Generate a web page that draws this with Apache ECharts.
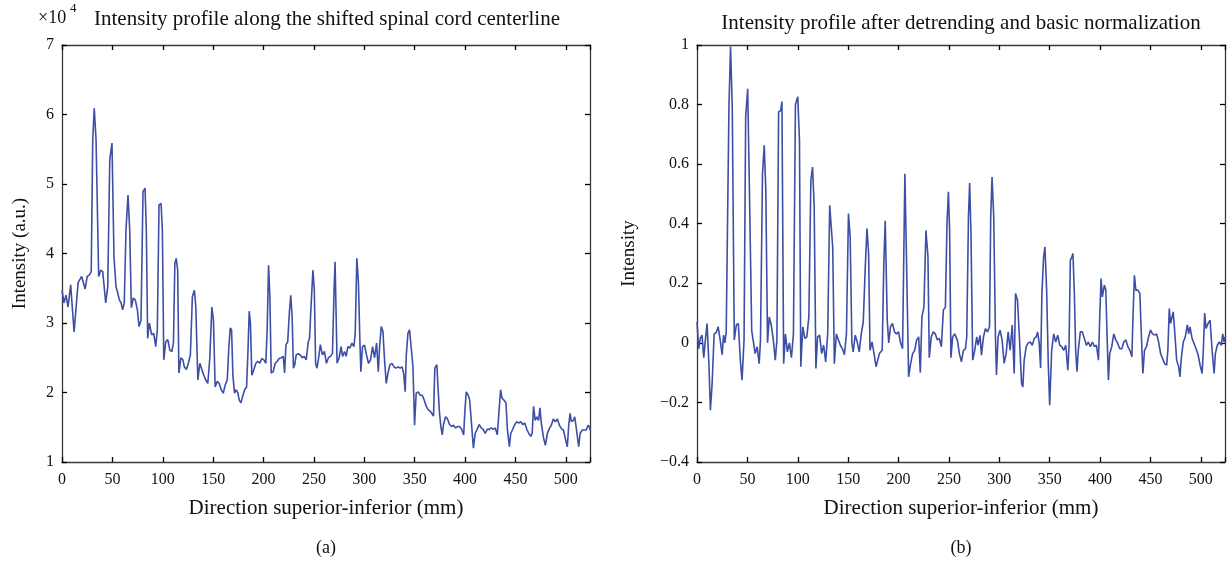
<!DOCTYPE html>
<html><head><meta charset="utf-8">
<script src="https://cdn.jsdelivr.net/npm/echarts@6/dist/echarts.min.js"></script>
<style>html,body{margin:0;padding:0;background:#fff}#c{width:1230px;height:567px}</style>
</head><body><div id="c"></div><script>
// ---- tick labels ----
const xTicks = [0,50,100,150,200,250,300,350,400,450,500];
const xMax = 524;
const yTicksA = [1,2,3,4,5,6,7];           // ×10^4
const yTicksB = [-0.4,-0.2,0,0.2,0.4,0.6,0.8,1];

// ---- (a) raw intensity profile, units of 10^4 ----
const posA = [0,2,4,6,8.6,12,16,19.5,23,25,27,29,30.5,32,33.8,36.4,38.4,40.4,43.4,45.4,47.4,49.6,51.6,53.6,55,57,58.6,60.2,61.8,63.5,65.5,67.2,68.8,70.8,72.8,74.8,76.4,78.4,80.4,82.4,83.7,85,86.7,89,91,93,94.6,96.3,98.3,99.6,101,103,105,107,109,110.6,112,113.4,114.8,116,118,120,121.4,123.4,125.4,127.4,129.4,131.4,132.8,134.8,136.8,138.8,140.7,142.7,144.7,146.7,148.7,150.3,152,154,156,158,160,162,164,165.6,167,168.3,169.6,171.2,173,174.6,175.9,177.6,179.2,181.2,183.2,184.6,185.8,187,188.4,190.4,192.4,194.4,196.4,198.3,200.3,202.3,203.6,205,206.3,207.6,209.6,211.6,213.6,215.6,217.6,219.6,220.9,222.3,224,225.6,227,228.4,229.7,231,232.4,234.4,236.4,238.4,240.4,242.4,244.4,245.7,247,249,250.4,251.7,253,254.4,256.4,258.4,260.4,262.4,264.4,266.4,268.4,270,271,273,275,277,278.4,280.4,282,283.7,285.7,287.7,289.7,291,292.6,294.2,295.6,296.6,298.2,300.2,302.2,304.2,306.2,308.2,310.2,312.2,313.9,315.2,316.8,318.5,320.1,321.8,323.5,325.5,327.5,329.5,331.5,333.5,335.5,337.5,339,340.6,341.6,343.3,344.9,346.6,348.3,349.9,351.5,353.5,355.5,357.5,359.5,361.5,363.5,365.5,367.4,368.7,370,372,373.3,374.6,376,377.4,378.6,380.6,382.6,384.6,386.6,388.6,390.6,392.6,394.6,396.6,398.6,399.9,401.2,403.2,404.6,406.6,408.3,410,412,414,416,418,420,422,424,426,428,430,432,433.6,435.3,436.6,438.6,440.6,442,444,445.3,447.3,449.3,451.3,453.3,455.3,457.3,459.3,461.3,463.3,465.3,466.6,468,469.6,471.3,473,474.3,475.7,477.7,479.7,481.7,483.6,485.6,487.6,489.6,491.6,493.6,495.6,497.6,499.5,501.5,502.8,504.2,505.5,507.5,508.8,510.2,511.5,512.8,514.2,516.2,518.2,520.2,522.2,523.5,524];
const intensityA = [3.47,3.29,3.4,3.23,3.55,2.87,3.58,3.67,3.49,3.67,3.69,3.74,5.63,6.09,5.63,3.67,3.76,3.74,3.29,3.52,5.35,5.59,3.95,3.52,3.45,3.33,3.29,3.19,3.29,4.34,4.84,4.34,3.22,3.36,3.33,3.19,2.95,3.04,4.89,4.94,4.34,2.78,3.0,2.83,2.85,2.66,2.9,4.70,4.72,4.34,2.47,2.73,2.76,2.61,2.59,2.71,3.86,3.93,3.76,2.28,2.5,2.47,2.37,2.33,2.42,2.54,3.38,3.47,3.23,2.18,2.42,2.33,2.25,2.18,2.13,2.5,3.23,3.04,2.08,2.16,2.13,2.04,1.99,2.11,2.18,2.66,2.93,2.9,2.25,1.99,2.04,1.99,1.89,1.85,1.94,2.04,2.08,2.61,3.17,3.0,2.25,2.33,2.42,2.45,2.42,2.49,2.47,2.42,2.9,3.83,3.38,2.28,2.3,2.42,2.45,2.49,2.5,2.52,2.28,2.69,2.73,3.14,3.4,3.09,2.35,2.4,2.54,2.56,2.54,2.5,2.52,2.47,2.73,2.78,3.2,3.76,3.47,2.42,2.35,2.47,2.69,2.54,2.59,2.42,2.5,2.52,2.56,3.47,3.88,2.42,2.5,2.66,2.52,2.59,2.52,2.66,2.64,2.71,2.66,2.85,3.93,3.58,2.76,2.3,2.66,2.68,2.54,2.42,2.47,2.66,2.5,2.71,2.3,2.66,2.95,2.88,2.47,2.13,2.28,2.4,2.42,2.37,2.35,2.37,2.35,2.37,2.28,2.01,2.52,2.85,2.9,2.64,2.37,1.53,1.99,2.01,1.96,1.96,1.89,1.8,1.75,1.73,1.71,1.66,2.35,2.4,2.04,1.71,1.51,1.39,1.54,1.65,1.62,1.54,1.51,1.53,1.49,1.51,1.51,1.47,1.39,1.75,2.01,1.96,1.89,1.51,1.2,1.41,1.47,1.54,1.49,1.47,1.41,1.47,1.47,1.49,1.47,1.49,1.39,1.71,2.04,1.92,1.89,1.85,1.47,1.22,1.41,1.47,1.54,1.58,1.56,1.58,1.54,1.56,1.47,1.41,1.37,1.41,1.8,1.6,1.65,1.6,1.78,1.56,1.36,1.24,1.41,1.48,1.53,1.62,1.58,1.62,1.53,1.48,1.46,1.34,1.22,1.51,1.70,1.58,1.6,1.65,1.51,1.36,1.22,1.41,1.46,1.46,1.46,1.53,1.5,1.46];

// ---- (b) detrended + normalized profile ----
const posB = [0,1.7,3.3,5,6.7,8.3,10,11.7,13.3,15,17,19,21,23,25,26.3,27.7,29,30.3,31.7,33.3,35,37,39,41,43,44.7,46.7,48.3,50.3,52.3,54.3,56,57.7,59.7,61.7,63,65,66.7,68.3,70,71.7,73.7,75.7,77.7,79.3,81,83,84.3,86,87.7,89.7,91.7,93.7,95.7,97.7,100,101.7,103,105,107,109,111,113,114.7,116.3,118,119.7,121.7,123.7,125.7,127.7,129.7,131.7,133,134.7,136.3,138.3,140.3,142.3,144.3,146.3,148.3,150.3,152,153.7,155,157,159,161,163,165,167,168.7,170.3,171.7,173.7,175.7,177.7,181,183.8,185.4,186.8,188.8,190.3,192,194,196,198,200,202,204,206.3,208,210,212,214,216,218,220,221.6,223.2,225.2,227.2,229.2,230.5,232.5,234.5,236.5,238.5,240.5,242.5,244.5,246.5,248.1,249.5,250.7,252,253.7,255.7,258.4,260.4,262.4,264.4,266.4,267.7,269.4,270.6,271.9,273.6,275.6,277.6,278.9,280.9,282.3,284.3,286.3,288.3,290.3,291.5,292.8,294.5,296.2,297.2,298.8,300.8,302.8,304.8,306.8,308.8,310.8,312.8,314.8,316.1,318.1,320.1,322.1,323.4,324.7,326.7,328.7,330.7,332.7,334.7,336.7,338,339.6,341,342.3,344,345.3,347,348.6,350,352,354,356,358,360,362,364,366,368,369.2,370.5,372.1,373.1,374.5,375.8,377.1,378.4,380.4,382.4,384.4,386.4,388.4,390.4,392.4,394.4,396.4,398.4,399.7,401,402.3,404.3,405.7,407,408.3,409.6,411.6,413.6,415.6,417.6,419.6,421.6,423.6,425.6,427.6,429.6,431.6,432.8,434.1,435.5,437.5,439.5,440.8,442.5,444.1,446.1,448.1,450.1,452.1,454.1,456.1,458.1,460.1,462.1,464.1,466.1,467.3,468.7,470,471.3,472.6,474,476,478,479.3,480.6,482.6,484.6,486.6,488,489.3,491.3,493.3,495.3,497.3,499.3,501.3,502.5,503.8,505.2,507.2,509.2,511.2,513.2,514.4,516.4,518.4,520.4,521.7,523.1,524];
const intensityB = [0.07,-0.02,0.015,0.026,-0.05,0.01,0.065,-0.06,-0.226,-0.137,0.03,0.034,0.054,0.01,-0.04,0.026,0,0.037,0.042,0.79,0.995,0.79,0.01,0.06,0.065,-0.058,-0.125,0.01,0.76,0.853,0.456,0.04,0.003,-0.036,-0.013,-0.07,0.01,0.568,0.663,0.512,0,0.087,0.06,0.01,-0.058,0.01,0.775,0.78,0.81,-0.07,0.03,-0.03,0,-0.05,0.03,0.80,0.826,0.68,-0.08,0.054,0.015,0.02,0.087,0.546,0.59,0.456,-0.086,0.02,0.026,-0.036,-0.008,-0.064,0.03,0.462,0.462,0.32,-0.07,0.03,0.01,-0.008,-0.02,-0.04,0.03,0.434,0.356,0,-0.03,0.026,0.003,-0.03,0.03,0.07,0.255,0.384,0.3,-0.025,0.003,-0.036,-0.08,-0.036,-0.025,0.266,0.41,0.076,0,0.054,0.065,0.037,0.03,0.037,0,-0.02,0.568,0.266,-0.114,-0.07,-0.036,-0.025,0.01,0.02,-0.1,0.087,0.12,0.378,0.29,-0.05,0.02,0.037,0.03,0.01,0.015,-0.013,0.11,0.12,0.4,0.507,0.378,-0.05,0.02,0.03,0.009,-0.036,-0.064,-0.025,-0.02,0.02,0.423,0.537,0.367,-0.058,-0.025,0.02,-0.008,0.025,-0.041,0.02,0.048,0.037,0.054,0.423,0.557,0.423,0.02,-0.108,0.02,0.043,0.009,-0.069,-0.036,0.037,-0.025,0.06,-0.103,0.166,0.143,0.009,-0.136,-0.148,-0.058,-0.013,0,0.003,-0.008,0.015,0.02,0.037,0,-0.084,0.166,0.289,0.322,0.177,-0.069,-0.209,-0.025,0.03,0.003,0.026,-0.008,-0.013,-0.025,-0.008,-0.092,-0.013,0.277,0.289,0.3,0.166,-0.025,-0.097,-0.025,0.037,0.037,0.015,-0.008,0.003,-0.013,0.003,-0.013,-0.008,-0.058,0.087,0.216,0.154,0.194,0.177,0.02,-0.125,-0.036,-0.013,0.03,0.01,-0.002,-0.02,-0.02,0.003,0.01,-0.013,-0.025,-0.047,0.1,0.227,0.177,0.177,0.166,0.043,-0.103,-0.025,-0.013,0.02,0.043,0.03,0.026,0.03,0.003,-0.036,-0.053,-0.07,-0.075,-0.025,0.115,0.065,0.07,0.104,0.043,-0.058,-0.08,-0.114,-0.053,0.003,0.02,0.06,0.03,0.054,0.015,-0.002,-0.02,-0.04,-0.075,-0.103,-0.025,0.1,0.048,0.065,0.076,-0.025,-0.103,-0.036,-0.008,0.003,-0.008,0.03,0.003,0.02];

const FONT = 'Liberation Serif';
const LINE = '#3d4ea6';
const chart = echarts.init(document.getElementById('c'), null, {renderer: 'canvas'});

function pairs(xs, ys) { return xs.map((x, i) => [x, ys[i]]); }
function fmtNum(v) { return String(+v.toFixed(2)).replace('-', '\u2212'); }
const xLabelFmt = v => (xTicks.indexOf(Math.round(v)) >= 0 && Math.abs(v - Math.round(v)) < 1e-6) ? String(Math.round(v)) : '';

function xAx(grid, pos, showLabel, name) {
  return {
    type: 'value', gridIndex: grid, position: pos, min: xTicks[0], max: xMax, interval: xTicks[1] - xTicks[0],
    splitLine: {show: false},
    axisLine: {show: true, onZero: false, lineStyle: {color: '#3a3a3a', width: 1.3}},
    axisTick: {show: true, inside: true, length: 5, lineStyle: {color: '#000', width: 1.3}},
    axisLabel: {show: showLabel, formatter: xLabelFmt, color: '#111', fontFamily: FONT, fontSize: 16, margin: 10},
    name: name || '', nameLocation: 'middle', nameGap: 36,
    nameTextStyle: {color: '#111', fontFamily: FONT, fontSize: 21}
  };
}
function yAx(grid, pos, ticks, showLabel, name, gap) {
  return {
    type: 'value', gridIndex: grid, position: pos, min: ticks[0], max: ticks[ticks.length - 1],
    interval: +(ticks[1] - ticks[0]).toFixed(6),
    splitLine: {show: false},
    axisLine: {show: true, onZero: false, lineStyle: {color: '#3a3a3a', width: 1.3}},
    axisTick: {show: true, inside: true, length: 5, lineStyle: {color: '#000', width: 1.3}},
    axisLabel: {show: showLabel, formatter: fmtNum, color: '#111', fontFamily: FONT, fontSize: 16, margin: 8},
    name: name || '', nameLocation: 'middle', nameGap: gap || 40,
    nameTextStyle: {color: '#111', fontFamily: FONT, fontSize: 19}
  };
}

const option = {
  backgroundColor: '#fff',
  animation: false,
  grid: [
    {left: 62, top: 45, width: 528, height: 417},
    {left: 697, top: 45, width: 528, height: 417}
  ],
  xAxis: [
    xAx(0, 'bottom', true, 'Direction superior-inferior (mm)'),
    xAx(0, 'top', false),
    xAx(1, 'bottom', true, 'Direction superior-inferior (mm)'),
    xAx(1, 'top', false)
  ],
  yAxis: [
    yAx(0, 'left', yTicksA, true, 'Intensity (a.u.)', 32),
    yAx(0, 'right', yTicksA, false),
    yAx(1, 'left', yTicksB, true, 'Intensity', 58),
    yAx(1, 'right', yTicksB, false)
  ],
  series: [
    {type: 'line', xAxisIndex: 0, yAxisIndex: 0, data: pairs(posA, intensityA), showSymbol: false, symbol: 'none',
     lineStyle: {color: LINE, width: 1.6}, clip: true},
    {type: 'line', xAxisIndex: 2, yAxisIndex: 2, data: pairs(posB, intensityB), showSymbol: false, symbol: 'none',
     lineStyle: {color: LINE, width: 1.6}, clip: true}
  ],
  graphic: [
    {type: 'text', style: {x: 38, y: 18, text: '\u00d710', font: '18px "Liberation Serif"', fill: '#111', textVerticalAlign: 'middle'}},
    {type: 'text', style: {x: 70, y: 9, text: '4', font: '13px "Liberation Serif"', fill: '#111', textVerticalAlign: 'middle'}},
    {type: 'text', style: {x: 327, y: 19, text: 'Intensity profile along the shifted spinal cord centerline', font: '21px "Liberation Serif"', fill: '#111', textAlign: 'center', textVerticalAlign: 'middle'}},
    {type: 'text', style: {x: 961, y: 23, text: 'Intensity profile after detrending and basic normalization', font: '21px "Liberation Serif"', fill: '#111', textAlign: 'center', textVerticalAlign: 'middle'}},
    {type: 'text', style: {x: 326, y: 548, text: '(a)', font: '18px "Liberation Serif"', fill: '#111', textAlign: 'center', textVerticalAlign: 'middle'}},
    {type: 'text', style: {x: 961, y: 548, text: '(b)', font: '18px "Liberation Serif"', fill: '#111', textAlign: 'center', textVerticalAlign: 'middle'}}
  ]
};
chart.setOption(option);
</script></body></html>
